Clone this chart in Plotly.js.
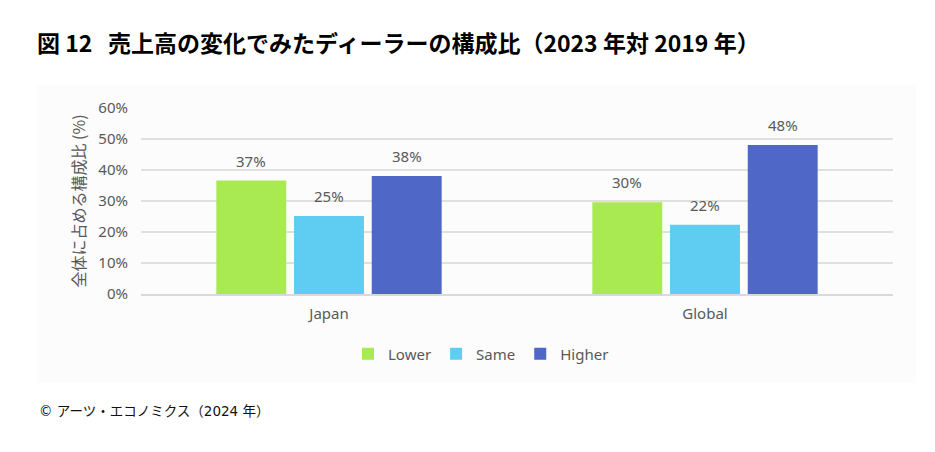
<!DOCTYPE html>
<html><head><meta charset="utf-8">
<script src="https://cdn.plot.ly/plotly-3.0.1.min.js"></script>
<style>html,body{margin:0;padding:0;background:#fff}#chart{width:935px;height:452px}</style>
</head><body><div id="chart"></div>
<script>
const categories = ["Japan", "Global"];
const seriesNames = ["Lower", "Same", "Higher"];
const lowerValues = [0.366, 0.296];
const sameValues = [0.252, 0.223];
const higherValues = [0.381, 0.481];
const yTickValues = [0, 0.1, 0.2, 0.3, 0.4, 0.5, 0.6];
const colors = ["#a9e952", "#5fcdf2", "#4f67c7"];

const allValues = [lowerValues, sameValues, higherValues];
const W = 935, H = 452;
const M = {l: 141, r: 42, t: 108, b: 158};
const pw = W - M.l - M.r, ph = H - M.t - M.b;
const bargap = 0.38;

const traces = allValues.map((vals, i) => ({
  type: "bar", name: seriesNames[i], x: categories, y: vals,
  marker: {color: colors[i]}, hoverinfo: "skip"
}));

const slot = pw / categories.length * (1 - bargap) / seriesNames.length;
const annotations = [];
allValues.forEach((vals, i) => {
  vals.forEach((v, j) => {
    annotations.push({
      x: categories[j], y: v, xref: "x", yref: "y",
      text: Math.round(v * 100) + "%", showarrow: false,
      xshift: (i - 1) * slot, yshift: 8, yanchor: "bottom",
      font: {size: 15, color: "#595959", family: "Noto Sans, Noto Sans CJK JP"}
    });
  });
});
annotations.push({
  xref: "paper", yref: "paper",
  x: (37 - M.l) / pw, y: (H - M.b - 411) / ph, xanchor: "left", yanchor: "middle",
  text: "© アーツ・エコノミクス（2024 年）", showarrow: false,
  font: {size: 13.5, color: "#111", family: "DejaVu Sans, Noto Sans CJK JP"}
});

const layout = {
  width: W, height: H, margin: M,
  paper_bgcolor: "#ffffff", plot_bgcolor: "#ffffff",
  font: {family: "Noto Sans, Noto Sans CJK JP", color: "#595959", size: 15},
  title: {
    text: "<b>図 12&nbsp;&nbsp;&nbsp;売上高の変化でみたディーラーの構成比（2023 年対 2019 年）</b>",
    x: 37 / W, xanchor: "left", xref: "container",
    y: 1 - 44 / H, yanchor: "middle", yref: "container",
    font: {family: "Noto Sans CJK JP", size: 23, color: "#000"}
  },
  barmode: "group", bargap: bargap, bargroupgap: 0.1,
  showlegend: true,
  legend: {orientation: "h", x: (481 - M.l) / pw, xanchor: "center",
           y: (H - M.b - 354) / ph, yanchor: "middle", bgcolor: "rgba(0,0,0,0)",
           itemwidth: 30,
           font: {size: 15, color: "#595959"}, tracegroupgap: 0},
  xaxis: {showline: true, linecolor: "#d9d9d9", linewidth: 1.5, ticks: "",
          ticklabelstandoff: 5,
          tickfont: {size: 15, color: "#595959"}, fixedrange: true},
  yaxis: {range: [0, 0.6], tickvals: yTickValues, tickformat: ".0%",
          gridcolor: "#e0e0e0", gridwidth: 1.3, zeroline: false, ticks: "",
          ticklabelstandoff: 12,
          tickfont: {size: 15, color: "#595959"},
          title: {text: "全体に占める構成比 (%)", standoff: 8,
                  font: {size: 16, color: "#595959", family: "Noto Sans CJK JP"}}},
  shapes: [{
    type: "rect", xref: "paper", yref: "paper", layer: "below",
    x0: (37 - M.l) / pw, x1: (916 - M.l) / pw,
    y0: (H - M.b - 383) / ph, y1: (H - M.b - 85) / ph,
    fillcolor: "#fcfcfc", line: {width: 0}
  }],
  annotations: annotations
};

Plotly.newPlot("chart", traces, layout, {displayModeBar: false, staticPlot: true});
</script></body></html>
